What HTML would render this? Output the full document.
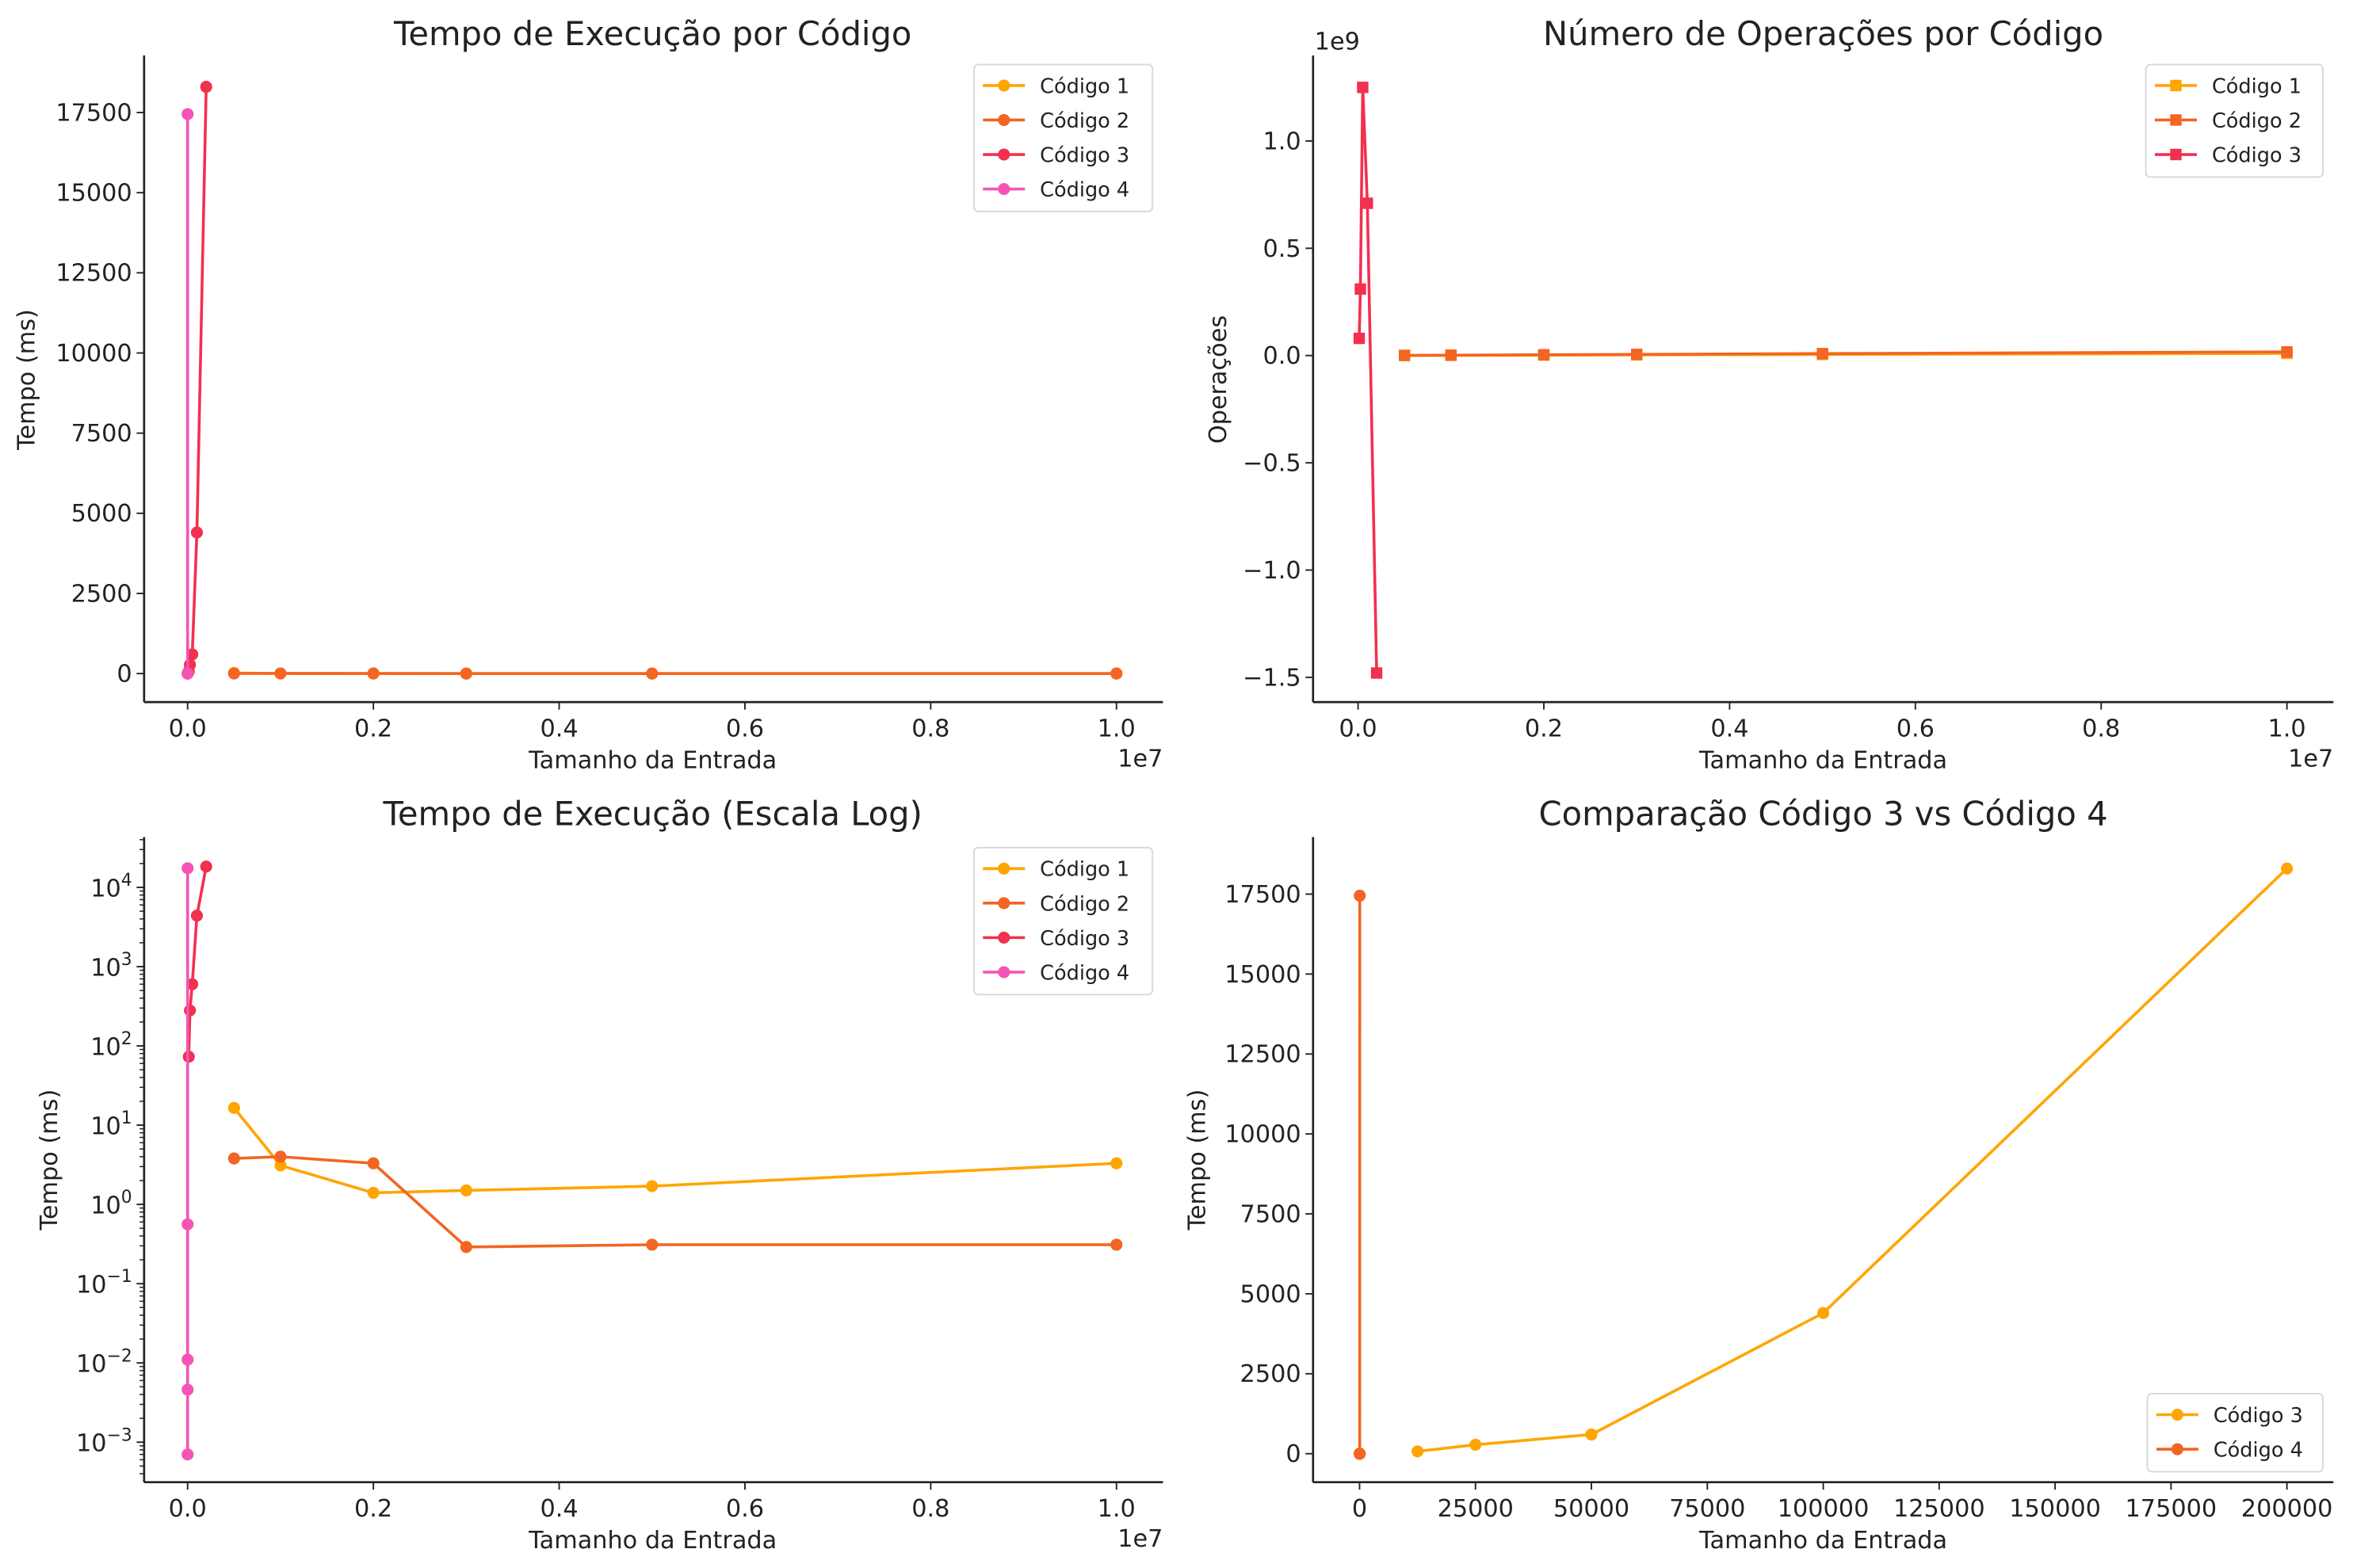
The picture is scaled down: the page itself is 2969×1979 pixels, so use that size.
<!DOCTYPE html>
<html><head><meta charset="utf-8">
<style>
html,body{margin:0;padding:0;background:#fff;}
svg{display:block;}
text{font-family:"DejaVu Sans","Liberation Sans",sans-serif;fill:#222;}
</style></head>
<body>
<svg id="fig" width="2969" height="1979" viewBox="0 0 1568 1045.2" xmlns="http://www.w3.org/2000/svg"></svg>
<script>
// ---- data ----
const sizesA = [500000, 1000000, 2000000, 3000000, 5000000, 10000000];
const time1 = [16.5, 3.1, 1.4, 1.5, 1.7, 3.3];
const time2 = [3.8, 4.0, 3.3, 0.29, 0.31, 0.31];
const sizesC3 = [12500, 25000, 50000, 100000, 200000];
const time3 = [73, 280, 600, 4400, 18300];
const sizesC4 = [10, 20, 25, 30, 40];
const time4 = [0.0007, 0.0046, 0.011, 0.56, 17450];
const ops1 = [0.0005e9, 0.001e9, 0.002e9, 0.003e9, 0.005e9, 0.01e9];
const ops2 = [0.0008e9, 0.0017e9, 0.0035e9, 0.0055e9, 0.009e9, 0.017e9];
const ops3 = [0.08e9, 0.31e9, 1.25e9, 0.71e9, -1.48e9];
const xTicksE7 = [0, 0.2, 0.4, 0.6, 0.8, 1.0];
const xTickLabelsE7 = ["0.0","0.2","0.4","0.6","0.8","1.0"];
const yTicksTime = [0, 2500, 5000, 7500, 10000, 12500, 15000, 17500];
const yTicksOps = [-1.5, -1.0, -0.5, 0.0, 0.5, 1.0];
const yTickLabelsOps = ["\u22121.5","\u22121.0","\u22120.5","0.0","0.5","1.0"];
const logDecades = [-3, -2, -1, 0, 1, 2, 3, 4];
const xTicksCmp = [0, 25000, 50000, 75000, 100000, 125000, 150000, 175000, 200000];

const C1 = "#ffa500", C2 = "#f26522", C3 = "#f2304f", C4 = "#f455b5";
const NS = "http://www.w3.org/2000/svg";
const svg = document.getElementById("fig");
const FT = 16, FL = 16, FTI = 22, FLG = 13.5;

function el(tag, attrs, parent, txt) {
  const e = document.createElementNS(NS, tag);
  for (const k in attrs) e.setAttribute(k, attrs[k]);
  if (txt !== undefined) e.textContent = txt;
  (parent || svg).appendChild(e);
  return e;
}
function linScale(d0, d1, r0, r1) { return v => r0 + (v - d0) * (r1 - r0) / (d1 - d0); }
function logScale(e0, p0, e1, p1) { return v => p0 + (Math.log10(v) - e0) * (p1 - p0) / (e1 - e0); }

function axes(g, L, R, T, B) {
  const s1 = el("line", {x1:L, y1:T, x2:L, y2:B, stroke:"#222", "stroke-width":1.4}, g);
  
  
  const s2 = el("line", {x1:L, y1:B, x2:R, y2:B, stroke:"#222", "stroke-width":1.4}, g);
  
  
}
function xTick(g, x, B, label) {
  el("line", {x1:x, y1:B, x2:x, y2:B+5, stroke:"#222", "stroke-width":1}, g);
  const t = el("text", {x:x, y:B+23, "text-anchor":"middle", "font-size":FT}, g, label);
  
  
}
function yTick(g, L, y, label) {
  el("line", {x1:L-5, y1:y, x2:L, y2:y, stroke:"#222", "stroke-width":1}, g);
  const t = el("text", {x:L-8, y:y+5.5, "text-anchor":"end", "font-size":FT}, g, label);
  
  
}
function title(g, x, y, s) {
  const t = el("text", {x:x, y:y, "text-anchor":"middle", "font-size":FTI}, g, s);
  
  
}
function xLabel(g, x, y, s) {
  const t = el("text", {x:x, y:y, "text-anchor":"middle", "font-size":FL}, g, s);
  
  
}
function yLabel(g, x, y, s) {
  const t = el("text", {x:x, y:y, "text-anchor":"middle", "font-size":FL, transform:"rotate(-90 "+x+" "+y+")"}, g, s);
  
  
}
function offsetText(g, x, y, s, anchor) {
  const t = el("text", {x:x, y:y, "text-anchor":anchor||"end", "font-size":FT}, g, s);
  
  
}
function series(g, xs, ys, sx, sy, color, marker, name) {
  const sg = el("g", {}, g);
  
  
  const pts = xs.map((x, i) => sx(x).toFixed(2) + "," + sy(ys[i]).toFixed(2)).join(" ");
  el("polyline", {points:pts, fill:"none", stroke:color, "stroke-width":1.9, "stroke-linejoin":"round"}, sg);
  xs.forEach((x, i) => {
    const cx = sx(x), cy = sy(ys[i]);
    let m;
    if (marker === "s") m = el("rect", {x:cx-3.8, y:cy-3.8, width:7.6, height:7.6, fill:color}, sg);
    else m = el("circle", {cx:cx, cy:cy, r:4, fill:color}, sg);
    
    
  });
}
function legend(g, x, y, w, entries, marker) {
  const lg = el("g", {}, g);
  
  
  const h = entries.length * 23 + 6;
  el("rect", {x:x, y:y, width:w, height:h, rx:3, fill:"#fff", stroke:"#d8d8d8", "stroke-width":1, "fill-opacity":0.85}, lg);
  entries.forEach((e, i) => {
    const cy = y + 14 + i * 23;
    const eg = el("g", {}, lg);
    
    
    el("line", {x1:x+6, y1:cy, x2:x+34, y2:cy, stroke:e[1], "stroke-width":1.9}, eg);
    if (marker === "s") el("rect", {x:x+16.2, y:cy-3.8, width:7.6, height:7.6, fill:e[1]}, eg);
    else el("circle", {cx:x+20, cy:cy, r:4, fill:e[1]}, eg);
    el("text", {x:x+44, y:cy+5, "font-size":FLG}, eg, e[0]);
  });
}

// ---- Panel 1 ----
(function(){
  const g = el("g", {});  
  const L=96, R=775, T=37, B=468;
  const sx = linScale(0, 1e7, 125, 744), sy = linScale(0, 17500, 449, 75);
  axes(g, L, R, T, B);
  xTicksE7.forEach((v,i)=>xTick(g, sx(v*1e7), B, xTickLabelsE7[i]));
  yTicksTime.forEach(v=>yTick(g, L, sy(v), String(v)));
  series(g, sizesA, time1, sx, sy, C1, "o", "series-codigo-1");
  series(g, sizesA, time2, sx, sy, C2, "o", "series-codigo-2");
  series(g, sizesC3, time3, sx, sy, C3, "o", "series-codigo-3");
  series(g, sizesC4, time4, sx, sy, C4, "o", "series-codigo-4");
  title(g, 435, 30, "Tempo de Execução por Código");
  xLabel(g, 435, 512, "Tamanho da Entrada");
  yLabel(g, 23, 253, "Tempo (ms)");
  offsetText(g, 775, 511, "1e7");
  legend(g, 649, 43, 119, [["Código 1",C1],["Código 2",C2],["Código 3",C3],["Código 4",C4]], "o");
})();

// ---- Panel 2 ----
(function(){
  const g = el("g", {});  
  const L=875, R=1555, T=37, B=468;
  const sx = linScale(0, 1e7, 905, 1524), sy = linScale(0, 1.0, 237, 94);
  axes(g, L, R, T, B);
  xTicksE7.forEach((v,i)=>xTick(g, sx(v*1e7), B, xTickLabelsE7[i]));
  yTicksOps.forEach((v,i)=>yTick(g, L, sy(v), yTickLabelsOps[i]));
  const syOps = v => sy(v/1e9);
  series(g, sizesA, ops1, sx, syOps, C1, "s", "series-codigo-1");
  series(g, sizesA, ops2, sx, syOps, C2, "s", "series-codigo-2");
  series(g, sizesC3, ops3, sx, syOps, C3, "s", "series-codigo-3");
  title(g, 1215, 30, "Número de Operações por Código");
  xLabel(g, 1215, 512, "Tamanho da Entrada");
  yLabel(g, 817, 253, "Operações");
  offsetText(g, 1555, 511, "1e9".replace("9","7"));
  offsetText(g, 876, 33, "1e9", "start");
  legend(g, 1430, 43, 118, [["Código 1",C1],["Código 2",C2],["Código 3",C3]], "s");
})();

// ---- Panel 3 (log) ----
(function(){
  const g = el("g", {});  
  const L=96, R=775, T=558, B=988;
  const sx = linScale(0, 1e7, 125, 744), sy = logScale(4, 591.5, 1, 750);
  axes(g, L, R, T, B);
  xTicksE7.forEach((v,i)=>xTick(g, sx(v*1e7), B, xTickLabelsE7[i]));
  logDecades.forEach(d=>{
    const y = sy(Math.pow(10,d));
    el("line", {x1:L-5, y1:y, x2:L, y2:y, stroke:"#222", "stroke-width":1}, g);
    const t = el("text", {x:L-8, y:y+6, "text-anchor":"end", "font-size":FT}, g);
    
    
    el("tspan", {}, t, "10");
    el("tspan", {dy:-7, "font-size":11.5}, t, d<0 ? "\u2212"+(-d) : String(d));
    for (let m=2;m<=9;m++){
      const ym = sy(m*Math.pow(10,d));
      if (ym>T && ym<B) el("line", {x1:L-3, y1:ym, x2:L, y2:ym, stroke:"#222", "stroke-width":0.8}, g);
    }
  });
  for (let m=2;m<=9;m++){ const ym=sy(m*1e-4); if (ym<B) el("line", {x1:L-3, y1:ym, x2:L, y2:ym, stroke:"#222", "stroke-width":0.8}, g); }
  series(g, sizesA, time1, sx, sy, C1, "o", "series-codigo-1");
  series(g, sizesA, time2, sx, sy, C2, "o", "series-codigo-2");
  series(g, sizesC3, time3, sx, sy, C3, "o", "series-codigo-3");
  series(g, sizesC4, time4, sx, sy, C4, "o", "series-codigo-4");
  title(g, 435, 550, "Tempo de Execução (Escala Log)");
  xLabel(g, 435, 1032, "Tamanho da Entrada");
  yLabel(g, 38, 773, "Tempo (ms)");
  offsetText(g, 775, 1031, "1e7");
  legend(g, 649, 565, 119, [["Código 1",C1],["Código 2",C2],["Código 3",C3],["Código 4",C4]], "o");
})();

// ---- Panel 4 ----
(function(){
  const g = el("g", {});  
  const L=875, R=1555, T=558, B=988;
  const sx = linScale(0, 200000, 906, 1524), sy = linScale(0, 17500, 969, 596);
  axes(g, L, R, T, B);
  xTicksCmp.forEach(v=>xTick(g, sx(v), B, String(v)));
  yTicksTime.forEach(v=>yTick(g, L, sy(v), String(v)));
  series(g, sizesC3, time3, sx, sy, C1, "o", "series-codigo-3");
  series(g, sizesC4, time4, sx, sy, C2, "o", "series-codigo-4");
  title(g, 1215, 550, "Comparação Código 3 vs Código 4");
  xLabel(g, 1215, 1032, "Tamanho da Entrada");
  yLabel(g, 803, 773, "Tempo (ms)");
  legend(g, 1431, 929, 117, [["Código 3",C1],["Código 4",C2]], "o");
})();
</script>
</body></html>
